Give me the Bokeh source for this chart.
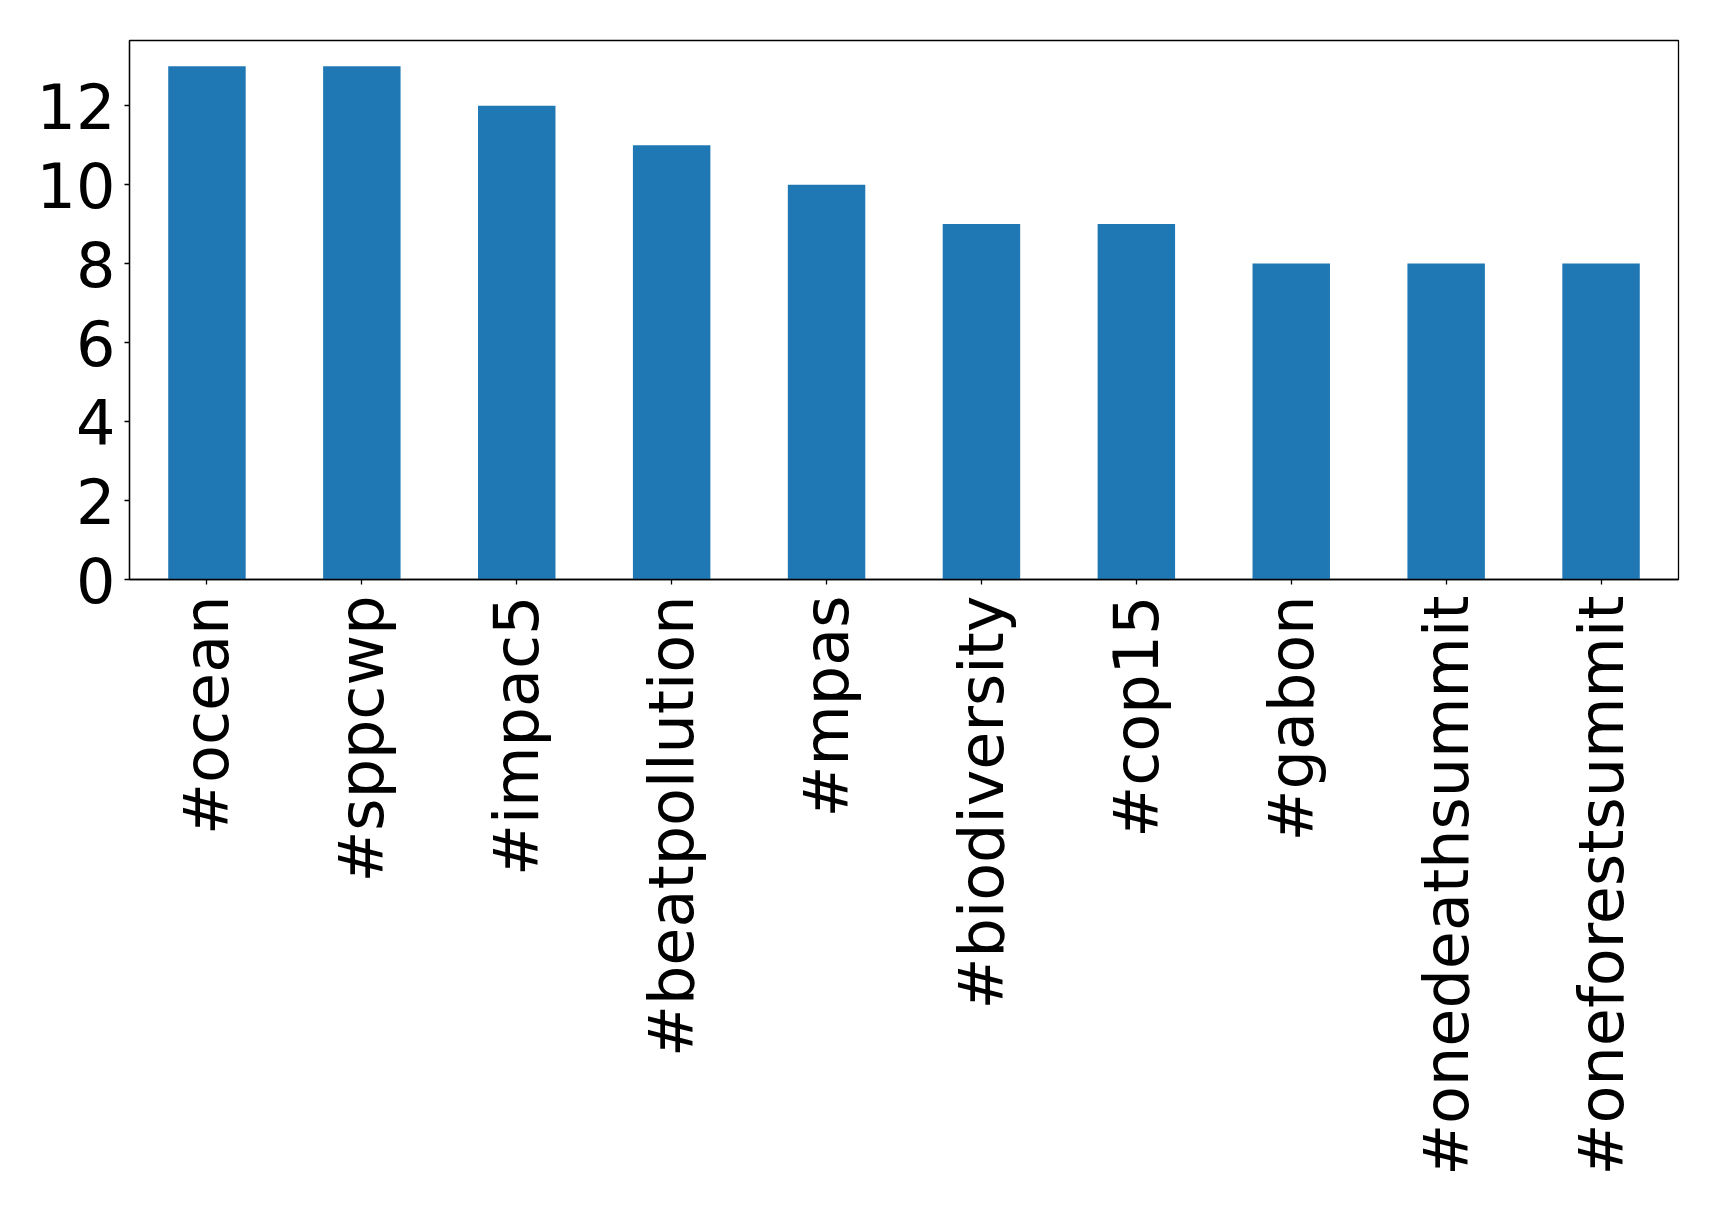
from bokeh.plotting import figure
from bokeh.models import FactorRange, Range1d, FixedTicker, ColumnDataSource
from bokeh.embed import file_html
from bokeh.resources import INLINE
import math

hashtags = ["#ocean", "#sppcwp", "#impac5", "#beatpollution", "#mpas",
            "#biodiversity", "#cop15", "#gabon", "#onedeathsummit", "#oneforestsummit"]
counts = [13, 13, 12, 11, 10, 9, 9, 8, 8, 8]
y_ticks = [0, 2, 4, 6, 8, 10, 12]

src = ColumnDataSource(dict(tag=hashtags, count=counts))

p = figure(width=1700, height=1195, output_backend="svg", toolbar_location=None,
           x_range=FactorRange(*hashtags, range_padding=0), y_range=Range1d(0, 13.65),
           min_border_left=129, min_border_right=22, min_border_top=40, min_border_bottom=616)

p.vbar(x="tag", top="count", width=0.5, source=src, color="#1f77b4", line_color=None)

p.xgrid.visible = False
p.ygrid.visible = False
p.outline_line_color = "black"
p.outline_line_width = 1.3
p.outline_line_alpha = 1

p.yaxis.ticker = FixedTicker(ticks=y_ticks)
for ax in (p.xaxis[0], p.yaxis[0]):
    ax.major_label_text_font = "DejaVu Sans"
    ax.major_label_text_font_size = "62px"
    ax.major_label_text_color = "black"
    ax.axis_line_color = "black"
    ax.axis_line_width = 1.3
    ax.major_tick_line_color = "black"
    ax.major_tick_line_width = 1.3
    ax.major_tick_in = 0
    ax.major_tick_out = 5
    ax.minor_tick_line_color = None
p.yaxis.major_label_standoff = 9
p.xaxis.major_label_standoff = 11
p.xaxis.major_label_orientation = math.pi / 2

open("out.html", "w").write(file_html(p, INLINE))
